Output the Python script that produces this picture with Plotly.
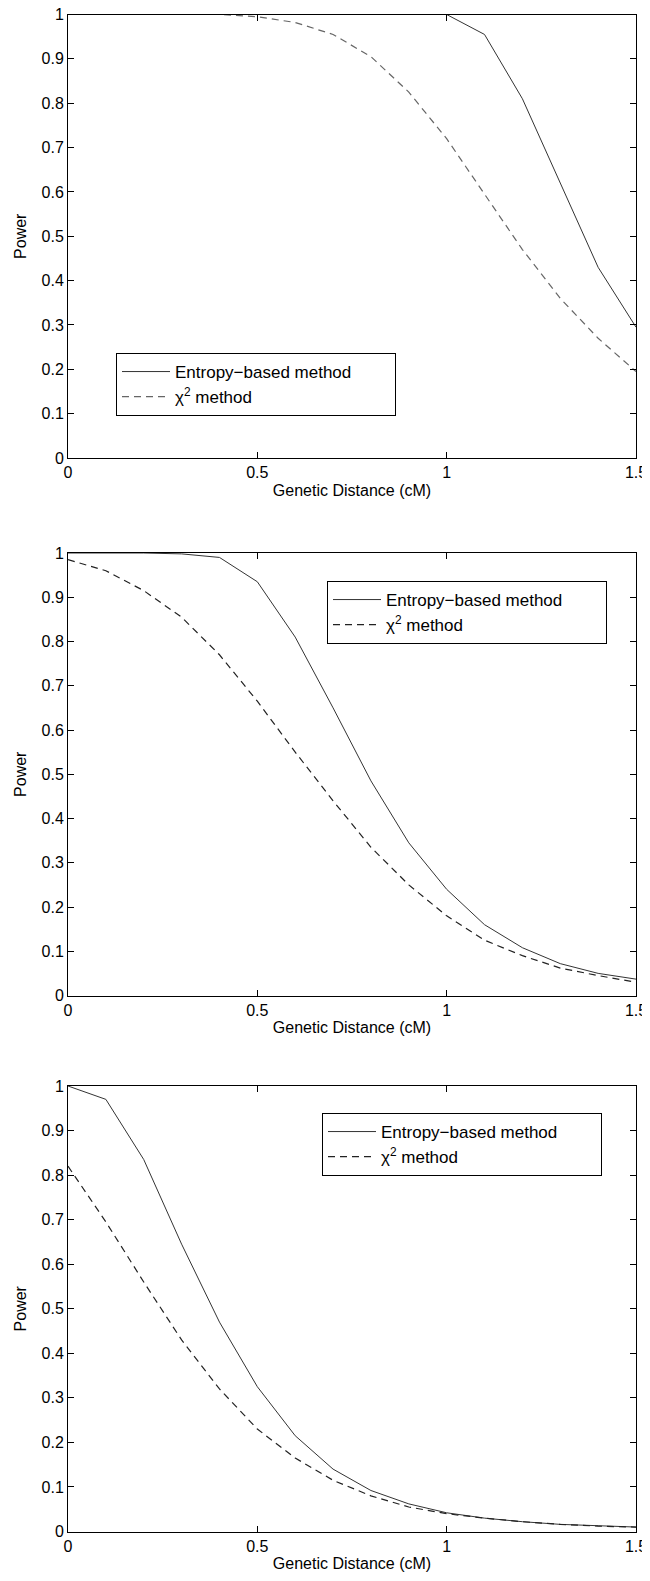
import plotly.graph_objects as go

x = [0.0, 0.1, 0.2, 0.3, 0.4, 0.5, 0.6, 0.7, 0.8, 0.9, 1.0, 1.1, 1.2, 1.3, 1.4, 1.5]

entropy_1 = [1.0, 1.0, 1.0, 1.0, 1.0, 1.0, 1.0, 1.0, 1.0, 1.0, 1.0, 0.955, 0.81, 0.62, 0.43, 0.295]
chi2_1 = [1.0, 1.0, 1.0, 1.0, 1.0, 0.995, 0.982, 0.955, 0.905, 0.825, 0.72, 0.595, 0.47, 0.36, 0.27, 0.195]

entropy_2 = [1.0, 1.0, 1.0, 0.998, 0.99, 0.935, 0.81, 0.65, 0.485, 0.345, 0.24, 0.16, 0.108, 0.072, 0.05, 0.037]
chi2_2 = [0.985, 0.96, 0.915, 0.855, 0.77, 0.665, 0.55, 0.44, 0.335, 0.25, 0.18, 0.125, 0.09, 0.062, 0.045, 0.03]

entropy_3 = [1.0, 0.97, 0.835, 0.645, 0.47, 0.325, 0.215, 0.14, 0.092, 0.062, 0.042, 0.03, 0.022, 0.016, 0.013, 0.01]
chi2_3 = [0.82, 0.695, 0.56, 0.43, 0.32, 0.23, 0.165, 0.115, 0.08, 0.055, 0.04, 0.03, 0.022, 0.016, 0.012, 0.01]

x_ticks = [0, 0.5, 1, 1.5]
x_tick_labels = ["0", "0.5", "1", "1.5"]
y_ticks = [0, 0.1, 0.2, 0.3, 0.4, 0.5, 0.6, 0.7, 0.8, 0.9, 1]
y_tick_labels = ["0", "0.1", "0.2", "0.3", "0.4", "0.5", "0.6", "0.7", "0.8", "0.9", "1"]

name_entropy = "Entropy\u2212based method" + "\u00a0" * 8
name_chi2 = "\u03c7<sup>2</sup> method"

# page body has an 8px margin; the figure is sized to fill the rest of the window
OFF = 8
PAGE_W, PAGE_H = 650, 1581
W, H = PAGE_W - OFF, PAGE_H - OFF
FONT = "Liberation Sans, Arial, sans-serif"


def px_x(p):
    return (p - OFF) / W


def px_y(p):
    return 1 - (p - OFF) / H


panels = [
    (entropy_1, chi2_1, (14.5, 458), (116, 353), "#666666"),
    (entropy_2, chi2_2, (553, 995.5), (327, 581), "#222222"),
    (entropy_3, chi2_3, (1086, 1531.5), (322, 1113), "#222222"),
]

fig = go.Figure()
x_dom = [px_x(68), px_x(636)]

for i, (ent, chi, (ytop, ybot), (lx, ly), dashcol) in enumerate(panels, start=1):
    sfx = "" if i == 1 else str(i)
    legname = "legend" if i == 1 else f"legend{i}"
    fig.add_trace(go.Scatter(
        x=x, y=ent, mode="lines", name=name_entropy,
        line=dict(color="#333333", width=1),
        xaxis=f"x{sfx}", yaxis=f"y{sfx}", legend=legname,
    ))
    fig.add_trace(go.Scatter(
        x=x, y=chi, mode="lines", name=name_chi2,
        line=dict(color=dashcol, width=1.2, dash="7px,5px"),
        xaxis=f"x{sfx}", yaxis=f"y{sfx}", legend=legname,
    ))
    axcommon = dict(
        showgrid=False, zeroline=False, showline=True, linecolor="black",
        linewidth=1, mirror="allticks", ticks="inside", ticklen=6,
        tickcolor="black", tickfont=dict(family=FONT, size=16, color="black"),
        automargin=False, ticklabeloverflow="allow",
    )
    fig.layout[f"xaxis{sfx}"] = dict(
        axcommon, domain=x_dom, range=[0, 1.5], tickvals=x_ticks,
        ticktext=x_tick_labels, anchor=f"y{sfx}",
        title=dict(text="Genetic Distance (cM)", standoff=4,
                   font=dict(family=FONT, size=16, color="black")),
    )
    fig.layout[f"yaxis{sfx}"] = dict(
        axcommon, domain=[px_y(ybot), px_y(ytop)], range=[0, 1],
        tickvals=y_ticks, ticktext=y_tick_labels, anchor=f"x{sfx}",
        title=dict(text="Power", standoff=10,
                   font=dict(family=FONT, size=16, color="black")),
    )
    fig.layout[legname] = dict(
        x=px_x(lx), y=px_y(ly), xanchor="left", yanchor="top",
        bgcolor="white", bordercolor="black", borderwidth=1,
        font=dict(family=FONT, size=17, color="black"),
        tracegroupgap=0, itemwidth=48,
    )

fig.update_layout(
    template="none",
    width=W, height=H, margin=dict(l=0, r=0, t=0, b=0),
    plot_bgcolor="white", paper_bgcolor="white",
    font=dict(family=FONT, size=16, color="black"),
    showlegend=True,
)

fig.write_html("out.html")
